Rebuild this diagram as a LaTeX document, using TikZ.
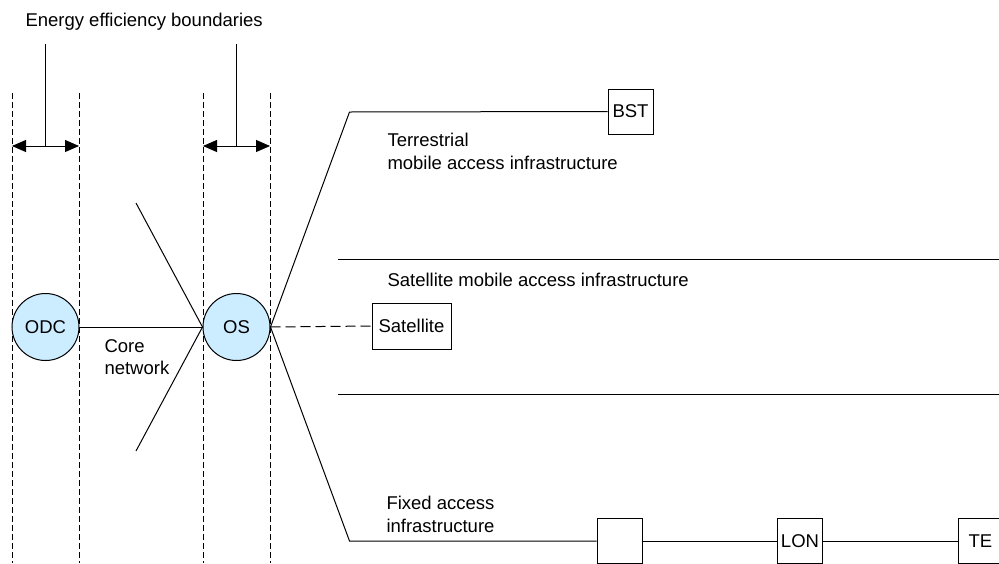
\documentclass[tikz,border=0pt]{standalone}
\usepackage{fontspec}
\setmainfont{Liberation Sans}
\usetikzlibrary{arrows.meta}
\definecolor{nodeblue}{RGB}{204,236,255}
\begin{document}
\begin{tikzpicture}[x=1pt,y=-1pt,line width=1pt,
  font=\fontsize{18.5}{23}\selectfont,
  bound/.style={dash pattern=on 6pt off 3pt},
  satlink/.style={dash pattern=on 10pt off 5pt},
  circ/.style={circle,draw,fill=nodeblue,minimum size=67pt,inner sep=0pt},
  boxn/.style={draw,fill=white,minimum size=45pt,inner sep=0pt},
  lbl/.style={inner sep=0pt,anchor=base west},
  dimarrow/.style={{Triangle[length=14pt,width=12pt]}-{Triangle[length=14pt,width=12pt]}}]
\clip (0,0) rectangle (999,563);
\fill[white] (0,0) rectangle (999,563);

% boundary lines
\coordinate (b1t) at (12,93);   \coordinate (b1b) at (12,563);
\coordinate (b2t) at (79,93);   \coordinate (b2b) at (79,563);
\coordinate (b3t) at (203,93);  \coordinate (b3b) at (203,563);
\coordinate (b4t) at (270,93);  \coordinate (b4b) at (270,563);
\draw[bound] (b1t) -- (b1b);
\draw[bound] (b2t) -- (b2b);
\draw[bound] (b3t) -- (b3b);
\draw[bound] (b4t) -- (b4b);

% title and pointers
\node[lbl] (title) at (25,26) {Energy efficiency boundaries};
\coordinate (p1t) at (45.5,44);  \coordinate (p1b) at (45.5,146);
\coordinate (p2t) at (236.5,44); \coordinate (p2b) at (236.5,146);
\coordinate (a1l) at (12,146);   \coordinate (a1r) at (79,146);
\coordinate (a2l) at (203,146);  \coordinate (a2r) at (270,146);
\draw (p1t) -- (p1b);
\draw (p2t) -- (p2b);
\draw[dimarrow] (a1l) -- (a1r);
\draw[dimarrow] (a2l) -- (a2r);

% nodes
\node[circ] (odc) at (45.5,327) {ODC};
\node[circ] (os) at (236.5,327) {OS};
\node[boxn] (bst) at (630.5,111.5) {BST};
\node[draw,fill=white,minimum width=79pt,minimum height=46pt,inner sep=0pt] (sat) at (411.5,326) {Satellite};
\node[boxn] (fx1) at (619.5,541) {};
\node[boxn] (lon) at (800,541) {LON};
\node[boxn] (te) at (980.5,541) {TE};

% core network
\draw (odc) -- (os);
\coordinate (cu) at (136,203);
\coordinate (cl) at (136,451);
\draw (os.west) -- (cu);
\draw (os.west) -- (cl);
\node[lbl] (core1) at (104,352) {Core};
\node[lbl] (core2) at (104,374) {network};

% access branches
\coordinate (tc) at (349.5,112);
\coordinate (fc) at (349.5,541);
\draw (os.east) -- (tc) -- (bst.west);
\draw[satlink] (os.east) -- (sat.west);
\draw (os.east) -- (fc) -- (fx1.west);
\draw (fx1.east) -- (lon.west);
\draw (lon.east) -- (te.west);

% separators
\coordinate (s1l) at (338,259);  \coordinate (s1r) at (999,259);
\coordinate (s2l) at (338,394.5); \coordinate (s2r) at (999,394.5);
\draw (s1l) -- (s1r);
\draw (s2l) -- (s2r);

% labels
\node[lbl] (ter1) at (387,146) {Terrestrial};
\node[lbl] (ter2) at (387,169) {mobile access infrastructure};
\node[lbl] (satl) at (387,286) {Satellite mobile access infrastructure};
\node[lbl] (fix1) at (386,509) {Fixed access};
\node[lbl] (fix2) at (386,532) {infrastructure};
\end{tikzpicture}
\end{document}
